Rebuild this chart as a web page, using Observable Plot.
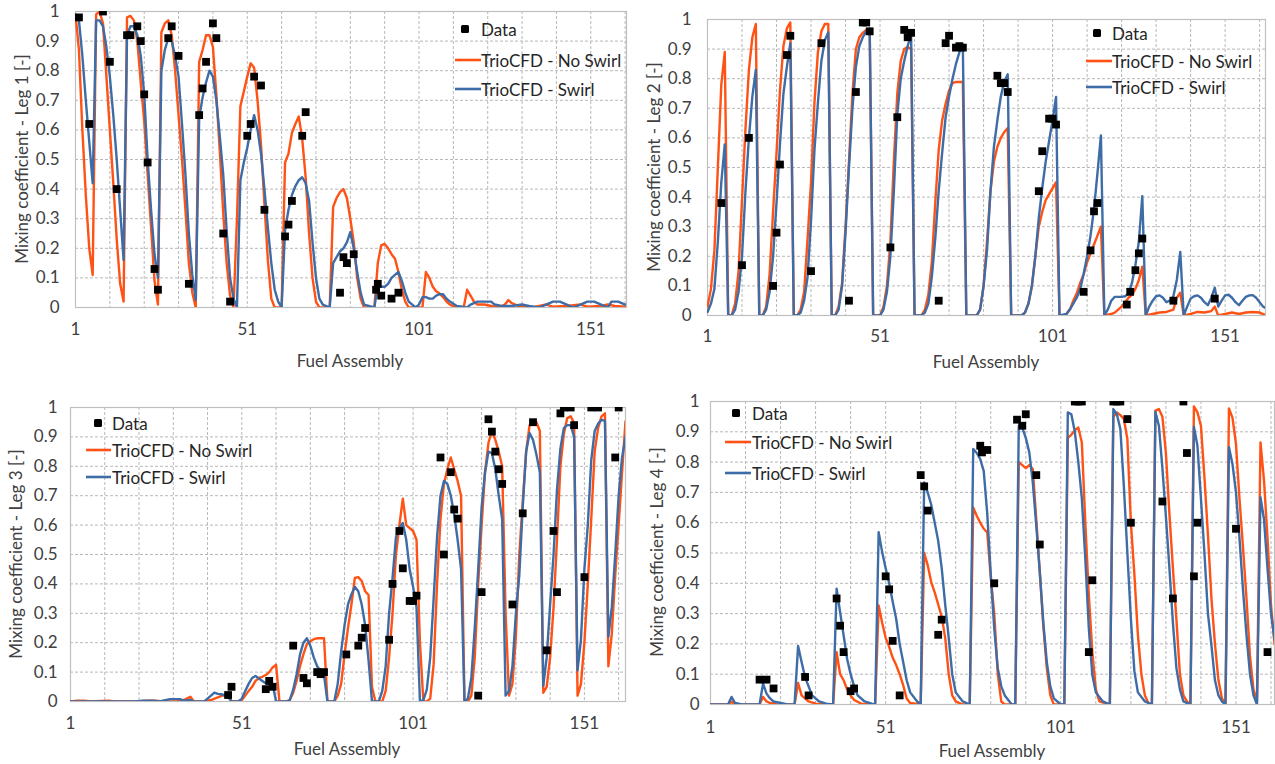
<!DOCTYPE html>
<html>
<head>
<meta charset="utf-8">
<script src="https://cdn.jsdelivr.net/npm/d3@7"></script>
<script src="https://cdn.jsdelivr.net/npm/@observablehq/plot@0.6"></script>
<style>
  html, body { margin: 0; padding: 0; background: #fff; }
  #root { position: relative; width: 1275px; height: 764px; overflow: hidden; background: #fff; font-family: Lato, "Open Sans", sans-serif; color: #404040; }
  .panel { position: absolute; }
  .ytitle, .xtitle { position: absolute; font-size: 17px; white-space: nowrap; color: #404040; }
  .ytitle { transform: translate(-50%, -50%) rotate(-90deg); }
  .xtitle { transform: translate(-50%, -50%); }
  .leg { position: absolute; font-size: 17px; white-space: nowrap; color: #262626; transform: translateY(-50%); }
</style>
</head>
<body>
<div id="root"></div>
<script>
// ---------------- DATA ----------------
const xTickLabels = [1, 51, 101, 151];
const yTickValues = [0, 0.1, 0.2, 0.3, 0.4, 0.5, 0.6, 0.7, 0.8, 0.9, 1];
const xGridValues = [11, 21, 31, 41, 51, 61, 71, 81, 91, 101, 111, 121, 131, 141, 151, 161];
const seriesNames = ["Data", "TrioCFD - No Swirl", "TrioCFD - Swirl"];
const legTitles = ["Mixing coefficient - Leg 1 [-]", "Mixing coefficient - Leg 2 [-]", "Mixing coefficient - Leg 3 [-]", "Mixing coefficient - Leg 4 [-]"];
const xTitle = "Fuel Assembly";
const xMaxByLeg = [161.4, 162.7, 163, 162];

// Leg 1
const leg1Data = [[2,0.98],[5,0.62],[9,1.0],[11,0.83],[13,0.40],[16,0.92],[17,0.92],[19,0.95],[20,0.90],[21,0.72],[22,0.49],[24,0.13],[25,0.06],[28,0.91],[29,0.95],[31,0.85],[34,0.08],[37,0.65],[38,0.74],[39,0.83],[41,0.96],[42,0.91],[44,0.25],[46,0.02],[51,0.58],[52,0.62],[53,0.78],[55,0.75],[56,0.33],[62,0.24],[63,0.28],[64,0.36],[67,0.58],[68,0.66],[78,0.05],[79,0.17],[80,0.15],[82,0.18],[88.5,0.06],[89,0.08],[90,0.04],[93,0.03],[95,0.05]];
const leg1NoSwirl = [[1,0.99],[2,0.87],[3,0.6],[4,0.38],[5,0.2],[6,0.11],[7,0.99],[8,1.0],[9,0.96],[10,0.78],[11,0.6],[12,0.42],[13,0.23],[14,0.08],[15,0.02],[16,0.98],[17,0.985],[18,0.97],[19,0.9],[20,0.76],[21,0.63],[22,0.45],[23,0.27],[24,0.09],[25,0.01],[26,0.93],[27,0.96],[28,0.97],[29,0.92],[30,0.8],[31,0.65],[32,0.5],[33,0.33],[34,0.15],[35,0.05],[36,0],[37,0.83],[38,0.87],[39,0.92],[40,0.92],[41,0.88],[42,0.72],[43,0.53],[44,0.32],[45,0.15],[46,0.04],[47,0],[48,0.3],[49,0.68],[50,0.73],[51,0.78],[52,0.825],[53,0.81],[54,0.7],[55,0.55],[56,0.35],[57,0.16],[58,0.03],[59,0],[61,0],[62,0.49],[63,0.52],[64,0.59],[65,0.62],[66,0.645],[67,0.57],[68,0.44],[69,0.25],[70,0.1],[71,0.02],[72,0],[75,0],[76,0.34],[77,0.37],[78,0.39],[79,0.4],[80,0.37],[81,0.3],[82,0.22],[83,0.1],[84,0.03],[85,0],[88,0],[89,0.15],[90,0.21],[91,0.215],[92,0.2],[93,0.18],[94,0.165],[95,0.12],[96,0.06],[97,0.02],[98,0],[102,0],[103,0.12],[104,0.1],[105,0.07],[106,0.055],[107,0.047],[108,0.035],[109,0.02],[110,0.01],[112,0],[114,0],[115,0.06],[116,0.04],[117,0.02],[118,0.01],[120,0.01],[122,0.005],[124,0],[126,0.01],[127,0.025],[128,0.015],[130,0.005],[134,0],[136,0.005],[138,0.01],[140,0.003],[144,0.005],[148,0.01],[150,0.003],[154,0.005],[156,0.01],[158,0.005],[161,0.003]];
const leg1Swirl = [[1,0.985],[2,0.97],[3,0.85],[4,0.7],[5,0.56],[6,0.42],[7,0.97],[8,0.97],[9,0.95],[10,0.88],[11,0.78],[12,0.65],[13,0.5],[14,0.33],[15,0.16],[16,0.92],[17,0.95],[18,0.95],[19,0.92],[20,0.85],[21,0.72],[22,0.5],[23,0.33],[24,0.18],[25,0.1],[26,0.8],[27,0.87],[28,0.91],[29,0.9],[30,0.85],[31,0.78],[32,0.62],[33,0.45],[34,0.25],[35,0.11],[36,0.025],[37,0.64],[38,0.71],[39,0.76],[40,0.8],[41,0.78],[42,0.7],[43,0.58],[44,0.45],[45,0.26],[46,0.1],[47,0.03],[48,0],[49,0.43],[50,0.49],[51,0.54],[52,0.6],[53,0.65],[54,0.6],[55,0.52],[56,0.4],[57,0.27],[58,0.15],[59,0.06],[60,0.02],[61,0],[62,0.26],[63,0.33],[64,0.38],[65,0.41],[66,0.43],[67,0.44],[68,0.42],[69,0.36],[70,0.22],[71,0.1],[72,0.03],[73,0.01],[75,0],[76,0.15],[77,0.17],[78,0.19],[79,0.2],[80,0.22],[81,0.255],[82,0.2],[83,0.12],[84,0.05],[85,0.01],[88,0],[89,0.075],[90,0.07],[91,0.07],[92,0.08],[93,0.1],[94,0.11],[95,0.12],[96,0.09],[97,0.05],[98,0.02],[100,0],[101,0.01],[102,0.035],[103,0.035],[104,0.03],[105,0.03],[106,0.04],[107,0.045],[108,0.045],[109,0.03],[110,0.02],[112,0.005],[115,0],[116,0.01],[117,0.015],[118,0.02],[120,0.02],[122,0.02],[123,0.01],[125,0.005],[128,0.005],[131,0.01],[133,0.005],[136,0],[138,0.01],[140,0.02],[142,0.02],[144,0.01],[146,0],[148,0.01],[150,0.02],[152,0.02],[154,0.01],[156,0],[157,0.02],[159,0.02],[161,0.01]];

// Leg 2
const leg2Data = [[5,0.38],[11,0.17],[13,0.60],[20,0.10],[21,0.28],[22,0.51],[24,0.88],[25,0.945],[31,0.15],[34,0.92],[42,0.05],[44,0.755],[46,0.99],[47,0.99],[48,0.96],[54,0.23],[56,0.67],[58,0.965],[59,0.94],[60,0.955],[68,0.05],[70,0.92],[71,0.945],[73,0.905],[74,0.91],[75,0.905],[85,0.81],[86,0.785],[87,0.785],[88,0.755],[97,0.42],[98,0.555],[100,0.665],[101,0.665],[102,0.645],[110,0.08],[112,0.22],[113,0.352],[114,0.38],[122.5,0.037],[123.5,0.08],[125,0.153],[126,0.21],[127,0.26],[136,0.05],[148,0.057]];
const leg2NoSwirl = [[1,0.03],[2,0.09],[3,0.22],[4,0.5],[5,0.78],[6,0.89],[7,0],[8,0],[9,0.04],[10,0.15],[11,0.39],[12,0.63],[13,0.83],[14,0.94],[15,0.985],[16,0],[17,0],[18,0.03],[19,0.14],[20,0.35],[21,0.55],[22,0.76],[23,0.91],[24,0.97],[25,0.99],[26,0],[27,0],[28,0.02],[29,0.08],[30,0.26],[31,0.45],[32,0.72],[33,0.89],[34,0.96],[35,0.985],[36,0.985],[37,0],[38,0],[39,0.03],[40,0.11],[41,0.3],[42,0.52],[43,0.75],[44,0.9],[45,0.94],[46,0.955],[47,0.965],[48,0.965],[49,0],[51,0],[52,0.03],[53,0.1],[54,0.25],[55,0.52],[56,0.75],[57,0.86],[58,0.9],[59,0.907],[60,0.9],[61,0],[63,0],[64,0.02],[65,0.07],[66,0.18],[67,0.38],[68,0.56],[69,0.66],[70,0.715],[71,0.76],[72,0.785],[73,0.789],[74,0.789],[75,0.789],[76,0],[79,0],[80,0.02],[81,0.1],[82,0.25],[83,0.42],[84,0.52],[85,0.57],[86,0.6],[87,0.62],[88,0.633],[89,0],[92,0],[93,0.01],[94,0.04],[95,0.1],[96,0.2],[97,0.3],[98,0.35],[99,0.39],[100,0.41],[101,0.43],[102,0.45],[103,0],[104,0],[105,0.005],[106,0.02],[107,0.05],[108,0.075],[109,0.11],[110,0.14],[111,0.18],[112,0.21],[113,0.24],[114,0.27],[115,0.3],[116,0],[118,0.005],[119,0.01],[120,0.02],[121,0.03],[122,0.045],[123,0.06],[124,0.07],[125,0.09],[126,0.12],[127,0.165],[128,0],[130,0.005],[132,0.01],[134,0.012],[136,0.02],[137,0.06],[138,0.077],[139,0],[141,0.005],[143,0.012],[145,0.01],[147,0.015],[148,0.03],[149,0],[151,0.005],[153,0.01],[155,0.005],[157,0.01],[159,0.012],[161,0.01],[163,0]];
const leg2Swirl = [[1,0.012],[2,0.04],[3,0.09],[4,0.25],[5,0.45],[6,0.578],[7,0],[8,0],[9,0.02],[10,0.08],[11,0.2],[12,0.42],[13,0.6],[14,0.74],[15,0.83],[16,0],[17,0],[18,0.02],[19,0.08],[20,0.2],[21,0.38],[22,0.58],[23,0.75],[24,0.84],[25,0.92],[26,0],[27,0],[28,0.01],[29,0.05],[30,0.13],[31,0.32],[32,0.56],[33,0.72],[34,0.86],[35,0.93],[36,0.957],[37,0],[38,0],[39,0.02],[40,0.1],[41,0.28],[42,0.5],[43,0.7],[44,0.84],[45,0.91],[46,0.94],[47,0.96],[48,0.97],[49,0],[51,0],[52,0.02],[53,0.08],[54,0.2],[55,0.42],[56,0.68],[57,0.8],[58,0.86],[59,0.91],[60,0.95],[61,0],[63,0],[64,0.01],[65,0.04],[66,0.13],[67,0.26],[68,0.42],[69,0.55],[70,0.67],[71,0.74],[72,0.8],[73,0.85],[74,0.89],[75,0.905],[76,0],[79,0],[80,0.02],[81,0.1],[82,0.22],[83,0.42],[84,0.57],[85,0.66],[86,0.74],[87,0.79],[88,0.815],[89,0],[92,0],[93,0.01],[94,0.04],[95,0.1],[96,0.2],[97,0.33],[98,0.43],[99,0.52],[100,0.59],[101,0.66],[102,0.738],[103,0],[105,0.005],[106,0.02],[107,0.04],[108,0.06],[109,0.09],[110,0.14],[111,0.2],[112,0.27],[113,0.36],[114,0.48],[115,0.608],[116,0],[117,0.02],[118,0.05],[119,0.063],[120,0.063],[121,0.063],[122,0.065],[123,0.074],[124,0.11],[125,0.17],[126,0.25],[127,0.403],[128,0],[129,0.03],[130,0.05],[131,0.065],[132,0.068],[133,0.06],[134,0.045],[135,0.05],[136,0.065],[137,0.12],[138,0.215],[139,0],[140,0.03],[141,0.057],[142,0.065],[143,0.068],[144,0.06],[145,0.045],[146,0.035],[147,0.06],[148,0.094],[149,0.03],[150,0.05],[151,0.068],[152,0.07],[153,0.06],[154,0.045],[155,0.035],[156,0.05],[157,0.063],[158,0.068],[159,0.069],[160,0.06],[161,0.045],[162,0.03],[163,0.024]];

// Leg 3
const leg3Data = [[47,0.022],[48,0.05],[58,0.042],[59,0.07],[60,0.05],[66,0.19],[69,0.08],[70,0.062],[73,0.1],[74,0.093],[75,0.1],[81.5,0.16],[85,0.19],[86,0.217],[87,0.25],[94,0.21],[95,0.40],[97,0.58],[98,0.453],[100,0.342],[101,0.342],[102,0.36],[109,0.83],[110,0.5],[112,0.78],[113,0.653],[114,0.622],[120,0.02],[121,0.372],[123,0.96],[124,0.918],[125,0.85],[126,0.79],[127,0.74],[130,0.33],[133,0.64],[136,0.95],[140,0.174],[142,0.58],[143,0.372],[144,0.98],[145,1.0],[147,1.0],[148,0.94],[151,0.423],[153,1.0],[155,1.0],[160,0.83],[161,1.0]];
const leg3NoSwirl = [[1,0],[3,0.003],[5,0.003],[7,0],[12,0.003],[14,0],[20,0],[24,0.003],[26,0.003],[28,0],[32,0],[34,0.005],[36,0.016],[37,0],[40,0],[42,0.005],[44,0.014],[46,0.023],[47,0.03],[48,0],[50,0],[51,0.005],[52,0.02],[53,0.036],[54,0.05],[55,0.07],[56,0.08],[57,0.084],[58,0.09],[59,0.1],[60,0.116],[61,0.125],[62,0],[64,0],[65,0.005],[66,0.03],[67,0.07],[68,0.12],[69,0.161],[70,0.195],[71,0.205],[72,0.212],[73,0.215],[74,0.215],[75,0.215],[76,0],[78,0],[79,0.02],[80,0.06],[81,0.16],[82,0.25],[83,0.33],[84,0.42],[85,0.423],[86,0.41],[87,0.375],[88,0.362],[89,0.05],[90,0],[92,0],[93,0.036],[94,0.15],[95,0.3],[96,0.5],[97,0.6],[98,0.69],[99,0.6],[100,0.59],[101,0.58],[102,0.55],[103,0.2],[104,0],[105,0],[106,0.01],[107,0.127],[108,0.4],[109,0.62],[110,0.74],[111,0.79],[112,0.83],[113,0.79],[114,0.75],[115,0.7],[116,0],[117,0],[118,0.02],[119,0.15],[120,0.4],[121,0.6],[122,0.78],[123,0.88],[124,0.92],[125,0.89],[126,0.85],[127,0.8],[128,0.3],[129,0.02],[130,0.06],[131,0.22],[132,0.5],[133,0.68],[134,0.85],[135,0.94],[136,0.955],[137,0.95],[138,0.92],[139,0.03],[140,0.05],[141,0.15],[142,0.32],[143,0.55],[144,0.8],[145,0.91],[146,0.964],[147,0.97],[148,0.947],[149,0.02],[150,0.06],[151,0.2],[152,0.4],[153,0.62],[154,0.85],[155,0.93],[156,0.97],[157,0.98],[158,0.12],[159,0.23],[160,0.43],[161,0.6],[162,0.78],[163,0.953]];
const leg3Swirl = [[1,0],[20,0],[22,0.003],[25,0.003],[27,0],[30,0.008],[33,0.008],[34,0.003],[36,0.005],[37,0],[40,0],[41,0.01],[42,0.02],[43,0.03],[44,0.026],[45,0.025],[46,0.02],[47,0.015],[48,0],[50,0],[51,0.01],[52,0.036],[53,0.06],[54,0.08],[55,0.087],[56,0.078],[57,0.07],[58,0.062],[59,0.06],[60,0.06],[61,0],[64,0],[65,0.005],[66,0.04],[67,0.093],[68,0.16],[69,0.2],[70,0.215],[71,0.19],[72,0.15],[73,0.12],[74,0.104],[75,0.09],[76,0],[78,0],[79,0.06],[80,0.17],[81,0.26],[82,0.33],[83,0.364],[84,0.39],[85,0.375],[86,0.33],[87,0.26],[88,0.14],[89,0],[91,0],[92,0.036],[93,0.12],[94,0.3],[95,0.42],[96,0.56],[97,0.59],[98,0.607],[99,0.55],[100,0.45],[101,0.39],[102,0.32],[103,0],[104,0.005],[105,0.04],[106,0.15],[107,0.35],[108,0.56],[109,0.7],[110,0.75],[111,0.74],[112,0.7],[113,0.636],[114,0.55],[115,0.45],[116,0],[117,0.01],[118,0.08],[119,0.25],[120,0.45],[121,0.66],[122,0.78],[123,0.85],[124,0.845],[125,0.79],[126,0.7],[127,0.62],[128,0.02],[129,0.036],[130,0.12],[131,0.3],[132,0.43],[133,0.66],[134,0.85],[135,0.913],[136,0.89],[137,0.84],[138,0.78],[139,0.053],[140,0.15],[141,0.33],[142,0.5],[143,0.72],[144,0.86],[145,0.93],[146,0.94],[147,0.94],[148,0.9],[149,0.106],[150,0.21],[151,0.45],[152,0.6],[153,0.82],[154,0.92],[155,0.945],[156,0.958],[157,0.955],[158,0.22],[159,0.32],[160,0.5],[161,0.7],[162,0.83],[163,0.9]];

// Leg 4
const leg4Data = [[15,0.082],[17,0.082],[19,0.053],[28,0.091],[29,0.03],[37,0.35],[38,0.26],[39,0.173],[41,0.044],[42,0.053],[51,0.423],[52,0.38],[53,0.21],[55,0.03],[61,0.757],[62,0.72],[63,0.64],[66,0.23],[67,0.28],[78,0.854],[78.5,0.832],[80,0.84],[82,0.40],[88.5,0.94],[90,0.92],[91,0.958],[94,0.757],[95,0.528],[105,1],[106,1],[107,1],[109,0.173],[110,0.41],[116,1],[117,1],[118,1],[120,0.942],[121,0.60],[130,0.67],[133,0.35],[136,1.0],[137,0.83],[139,0.423],[140,0.60],[151,0.58],[160,0.173]];
const leg4NoSwirl = [[1,0],[6,0],[7,0.009],[8,0],[15,0],[16,0.025],[17,0.01],[18,0.005],[20,0],[25,0],[26,0.071],[27,0.03],[28,0.02],[29,0.01],[31,0.003],[36,0],[37,0.173],[38,0.1],[39,0.08],[40,0.05],[41,0.03],[42,0.015],[44,0.003],[48,0],[49,0.327],[50,0.27],[51,0.22],[52,0.19],[53,0.155],[54,0.13],[55,0.1],[56,0.064],[57,0.02],[58,0.005],[61,0],[62,0.5],[63,0.46],[64,0.404],[65,0.37],[66,0.33],[67,0.29],[68,0.22],[69,0.1],[70,0.03],[71,0.01],[73,0],[75,0],[76,0.65],[77,0.623],[78,0.6],[79,0.58],[80,0.568],[81,0.42],[82,0.3],[83,0.1],[84,0.01],[85,0],[88,0],[89,0.8],[90,0.79],[91,0.78],[92,0.79],[93,0.777],[94,0.61],[95,0.437],[96,0.26],[97,0.12],[98,0.03],[99,0],[102,0],[103,0.88],[104,0.89],[105,0.905],[106,0.914],[107,0.865],[108,0.6],[109,0.36],[110,0.173],[111,0.05],[112,0.01],[115,0],[116,0.95],[117,0.964],[118,0.955],[119,0.942],[120,0.876],[121,0.6],[122,0.43],[123,0.23],[124,0.1],[125,0.03],[126,0.005],[127,0],[128,0.97],[129,0.975],[130,0.95],[131,0.83],[132,0.63],[133,0.45],[134,0.28],[135,0.1],[136,0.03],[137,0.01],[138,0],[139,0.984],[140,0.964],[141,0.92],[142,0.75],[143,0.56],[144,0.35],[145,0.2],[146,0.08],[147,0.02],[148,0],[149,0.977],[150,0.947],[151,0.86],[152,0.68],[153,0.52],[154,0.35],[155,0.16],[156,0.05],[157,0.01],[158,0.865],[159,0.74],[160,0.55],[161,0.33],[162,0.2]];
const leg4Swirl = [[1,0],[6,0],[7,0.025],[8,0.005],[10,0],[15,0],[16,0.069],[17,0.036],[18,0.02],[19,0.01],[21,0.005],[23,0],[25,0],[26,0.193],[27,0.14],[28,0.09],[29,0.06],[30,0.03],[32,0.01],[34,0.003],[36,0],[37,0.382],[38,0.305],[39,0.228],[40,0.15],[41,0.1],[42,0.06],[43,0.03],[45,0.01],[47,0.003],[48,0],[49,0.569],[50,0.503],[51,0.45],[52,0.4],[53,0.34],[54,0.283],[55,0.2],[56,0.14],[57,0.08],[58,0.04],[60,0.01],[61,0],[62,0.733],[63,0.7],[64,0.66],[65,0.6],[66,0.54],[67,0.45],[68,0.33],[69,0.22],[70,0.1],[71,0.04],[73,0.01],[75,0],[76,0.843],[77,0.83],[78,0.81],[79,0.77],[80,0.63],[81,0.43],[82,0.25],[83,0.12],[84,0.06],[85,0.03],[87,0],[88,0],[89,0.92],[90,0.914],[91,0.88],[92,0.832],[93,0.733],[94,0.59],[95,0.437],[96,0.272],[97,0.14],[98,0.06],[99,0.02],[101,0],[102,0],[103,0.964],[104,0.958],[105,0.9],[106,0.8],[107,0.68],[108,0.48],[109,0.25],[110,0.097],[111,0.04],[113,0.01],[115,0],[116,0.975],[117,0.958],[118,0.909],[119,0.72],[120,0.5],[121,0.283],[122,0.11],[123,0.04],[125,0.01],[127,0],[128,0.966],[129,0.92],[130,0.78],[131,0.62],[132,0.45],[133,0.27],[134,0.12],[135,0.05],[136,0.01],[138,0],[139,0.917],[140,0.854],[141,0.68],[142,0.5],[143,0.3],[144,0.195],[145,0.08],[146,0.03],[147,0.01],[148,0],[149,0.849],[150,0.794],[151,0.7],[152,0.55],[153,0.38],[154,0.23],[155,0.1],[156,0.03],[157,0],[158,0.684],[159,0.612],[160,0.45],[161,0.3],[162,0.217]];

// ---------------- DRAWING ----------------
const ORANGE = "#ff5214";
const BLUE = "#3d6ca6";
const GRID = "#b8b8b8";
const FONT = "Lato, 'Open Sans', sans-serif";
const root = document.getElementById("root");

function makePanel(cfg) {
  const {data, noSwirl, swirl, xMax, left, top, width, height, mL, mR, mT, mB, yPad, xPad} = cfg;
  const chart = Plot.plot({
    width, height,
    marginLeft: mL, marginRight: mR, marginTop: mT, marginBottom: mB,
    style: {fontFamily: FONT, fontSize: "17px", color: "#404040", background: "transparent", overflow: "visible"},
    x: {domain: [1, xMax], ticks: xTickLabels, tickSize: 0, tickPadding: xPad, label: null, tickFormat: d => String(d)},
    y: {domain: [0, 1], ticks: yTickValues, tickSize: 0, tickPadding: yPad, label: null, tickFormat: d => String(+d.toFixed(1))},
    marks: [
      Plot.ruleX(xGridValues, {stroke: GRID, strokeDasharray: "3,2", strokeWidth: 1}),
      Plot.ruleY(yTickValues.filter(v => v > 0 && v < 1), {stroke: GRID, strokeDasharray: "3,2", strokeWidth: 1}),
      Plot.frame({stroke: "#bfbfbf", strokeWidth: 1.2}),
      Plot.line(noSwirl, {x: d => d[0], y: d => d[1], stroke: ORANGE, strokeWidth: 2.4, clip: true}),
      Plot.line(swirl, {x: d => d[0], y: d => d[1], stroke: BLUE, strokeWidth: 2.4, clip: true}),
      Plot.dot(data, {x: d => d[0], y: d => d[1], symbol: "square", r: 4.4, fill: "#000", stroke: "none", clip: true})
    ]
  });
  chart.classList.add("panel");
  chart.style.left = left + "px";
  chart.style.top = top + "px";
  root.appendChild(chart);
}

function addText(cls, text, x, y) {
  const d = document.createElement("div");
  d.className = cls;
  d.textContent = text;
  d.style.left = x + "px";
  d.style.top = y + "px";
  root.appendChild(d);
}

function addLegend(markX, lineX0, lineX1, textX, rowYs) {
  const ns = "http://www.w3.org/2000/svg";
  const svg = document.createElementNS(ns, "svg");
  svg.setAttribute("width", 1275);
  svg.setAttribute("height", 764);
  svg.style.position = "absolute";
  svg.style.left = "0px";
  svg.style.top = "0px";
  svg.style.pointerEvents = "none";
  const sq = document.createElementNS(ns, "rect");
  sq.setAttribute("x", markX - 4); sq.setAttribute("y", rowYs[0] - 4);
  sq.setAttribute("width", 8); sq.setAttribute("height", 8);
  sq.setAttribute("rx", 1.5); sq.setAttribute("fill", "#000");
  svg.appendChild(sq);
  [ORANGE, BLUE].forEach((c, i) => {
    const ln = document.createElementNS(ns, "line");
    ln.setAttribute("x1", lineX0); ln.setAttribute("x2", lineX1);
    ln.setAttribute("y1", rowYs[i + 1]); ln.setAttribute("y2", rowYs[i + 1]);
    ln.setAttribute("stroke", c); ln.setAttribute("stroke-width", 2.6);
    svg.appendChild(ln);
  });
  root.appendChild(svg);
  seriesNames.forEach((name, i) => addText("leg", name, textX, rowYs[i]));
}

const legs = [
  {data: leg1Data, noSwirl: leg1NoSwirl, swirl: leg1Swirl, xMax: xMaxByLeg[0], left: 0, top: 0, width: 640, height: 378, mL: 75, mR: 14, mT: 11, mB: 71, yPad: 16, xPad: 15},
  {data: leg2Data, noSwirl: leg2NoSwirl, swirl: leg2Swirl, xMax: xMaxByLeg[1], left: 640, top: 0, width: 635, height: 378, mL: 67, mR: 10, mT: 19, mB: 63, yPad: 16, xPad: 14},
  {data: leg3Data, noSwirl: leg3NoSwirl, swirl: leg3Swirl, xMax: xMaxByLeg[2], left: 0, top: 378, width: 640, height: 386, mL: 70, mR: 15, mT: 29, mB: 63, yPad: 13, xPad: 15},
  {data: leg4Data, noSwirl: leg4NoSwirl, swirl: leg4Swirl, xMax: xMaxByLeg[3], left: 640, top: 378, width: 635, height: 386, mL: 70, mR: 1, mT: 23, mB: 60, yPad: 11, xPad: 16}
];
legs.forEach(makePanel);

// axis titles
addText("ytitle", legTitles[0], 21, 159);
addText("ytitle", legTitles[1], 653, 167);
addText("ytitle", legTitles[2], 15, 554);
addText("ytitle", legTitles[3], 656, 552);
addText("xtitle", xTitle, 350, 360);
addText("xtitle", xTitle, 986, 361);
addText("xtitle", xTitle, 347, 748);
addText("xtitle", xTitle, 992, 750);

// legends
addLegend(465, 455, 481, 481, [29, 60, 89]);
addLegend(1097, 1086, 1112, 1112, [33, 61, 87]);
addLegend(98, 86, 111, 112, [423, 450, 477]);
addLegend(736, 725, 751, 752, [413, 442, 473]);
</script>
</body>
</html>
